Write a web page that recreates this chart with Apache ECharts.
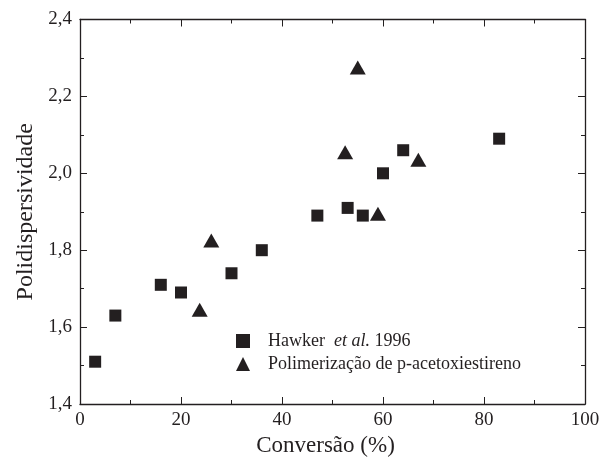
<!DOCTYPE html>
<html><head><meta charset="utf-8">
<script src="https://cdn.jsdelivr.net/npm/echarts@6/dist/echarts.min.js"></script>
<style>html,body{margin:0;padding:0;background:#fff}#c{width:600px;height:457px}</style>
</head><body><div id="c"></div>
<script>
var hawkerX = [3, 7, 16, 20, 30, 36, 47, 53, 56, 60, 64, 83];
var hawkerY = [1.51, 1.63, 1.71, 1.69, 1.74, 1.80, 1.89, 1.91, 1.89, 2.00, 2.06, 2.09];
var polyX = [23.7, 26, 52.5, 55, 59, 67];
var polyY = [1.645, 1.825, 2.055, 2.275, 1.895, 2.035];
var seriesNames = ['Hawker et al. 1996', 'Polimerização de p-acetoxiestireno'];
var xTitle = 'Conversão (%)';
var yTitle = 'Polidispersividade';

function pairs(xs, ys){ return xs.map(function(x,i){ return [x, ys[i]]; }); }
var ink = '#231f20';
var font = 'Liberation Serif';
var chart = echarts.init(document.getElementById('c'));
var axisCommon = {
  axisLine: {show: true, onZero: false, lineStyle: {color: ink, width: 1.3}},
  axisTick: {show: true, inside: true, length: 7, lineStyle: {color: ink, width: 1}},
  minorTick: {show: true, splitNumber: 2, length: 4, lineStyle: {color: ink, width: 1}},
  splitLine: {show: false}
};
chart.setOption({
  animation: false,
  grid: {left: 80, right: 15, top: 19.5, bottom: 53, containLabel: false, outerBoundsMode: 'none'},
  xAxis: [
    Object.assign({type: 'value', min: 0, max: 100, interval: 20, position: 'bottom',
      name: xTitle, nameLocation: 'middle', nameGap: 29,
      nameTextStyle: {fontFamily: font, fontSize: 23, color: ink, padding: [0, 14, 0, 0]},
      axisLabel: {fontFamily: font, fontSize: 19, color: ink, margin: 7}}, axisCommon),
    Object.assign({type: 'value', min: 0, max: 100, interval: 20, position: 'top',
      axisLabel: {show: false}}, axisCommon)
  ],
  yAxis: [
    Object.assign({type: 'value', min: 1.4, max: 2.4, interval: 0.2, position: 'left',
      name: yTitle, nameLocation: 'middle', nameGap: 42, nameRotate: 90,
      nameTextStyle: {fontFamily: font, fontSize: 24, color: ink},
      axisLabel: {fontFamily: font, fontSize: 19, color: ink, margin: 8,
        formatter: function(v){ return v.toFixed(1).replace('.', ','); }}}, axisCommon),
    Object.assign({type: 'value', min: 1.4, max: 2.4, interval: 0.2, position: 'right',
      axisLabel: {show: false}}, axisCommon)
  ],
  legend: {
    orient: 'vertical', left: 231, top: 327, itemGap: 5, itemWidth: 14, itemHeight: 14,
    data: [{name: seriesNames[0], icon: 'rect'}, {name: seriesNames[1], icon: 'triangle'}],
    formatter: function(n){
      if (n === seriesNames[0]) return '{n|Hawker  }{i|et al.}{n| 1996}';
      return '{n|' + n + '}';
    },
    textStyle: {fontFamily: font, fontSize: 18, color: ink, padding: [0,0,0,13],
      rich: {n: {fontFamily: font, fontSize: 18, color: ink},
             i: {fontFamily: font, fontSize: 18, color: ink, fontStyle: 'italic'}}}
  },
  series: [
    {name: seriesNames[0], type: 'scatter', symbol: 'rect', symbolSize: 12,
     itemStyle: {color: ink, opacity: 1}, data: pairs(hawkerX, hawkerY)},
    {name: seriesNames[1], type: 'scatter', symbol: 'triangle', symbolSize: [16, 14],
     itemStyle: {color: ink, opacity: 1}, data: pairs(polyX, polyY)}
  ]
});
</script></body></html>
